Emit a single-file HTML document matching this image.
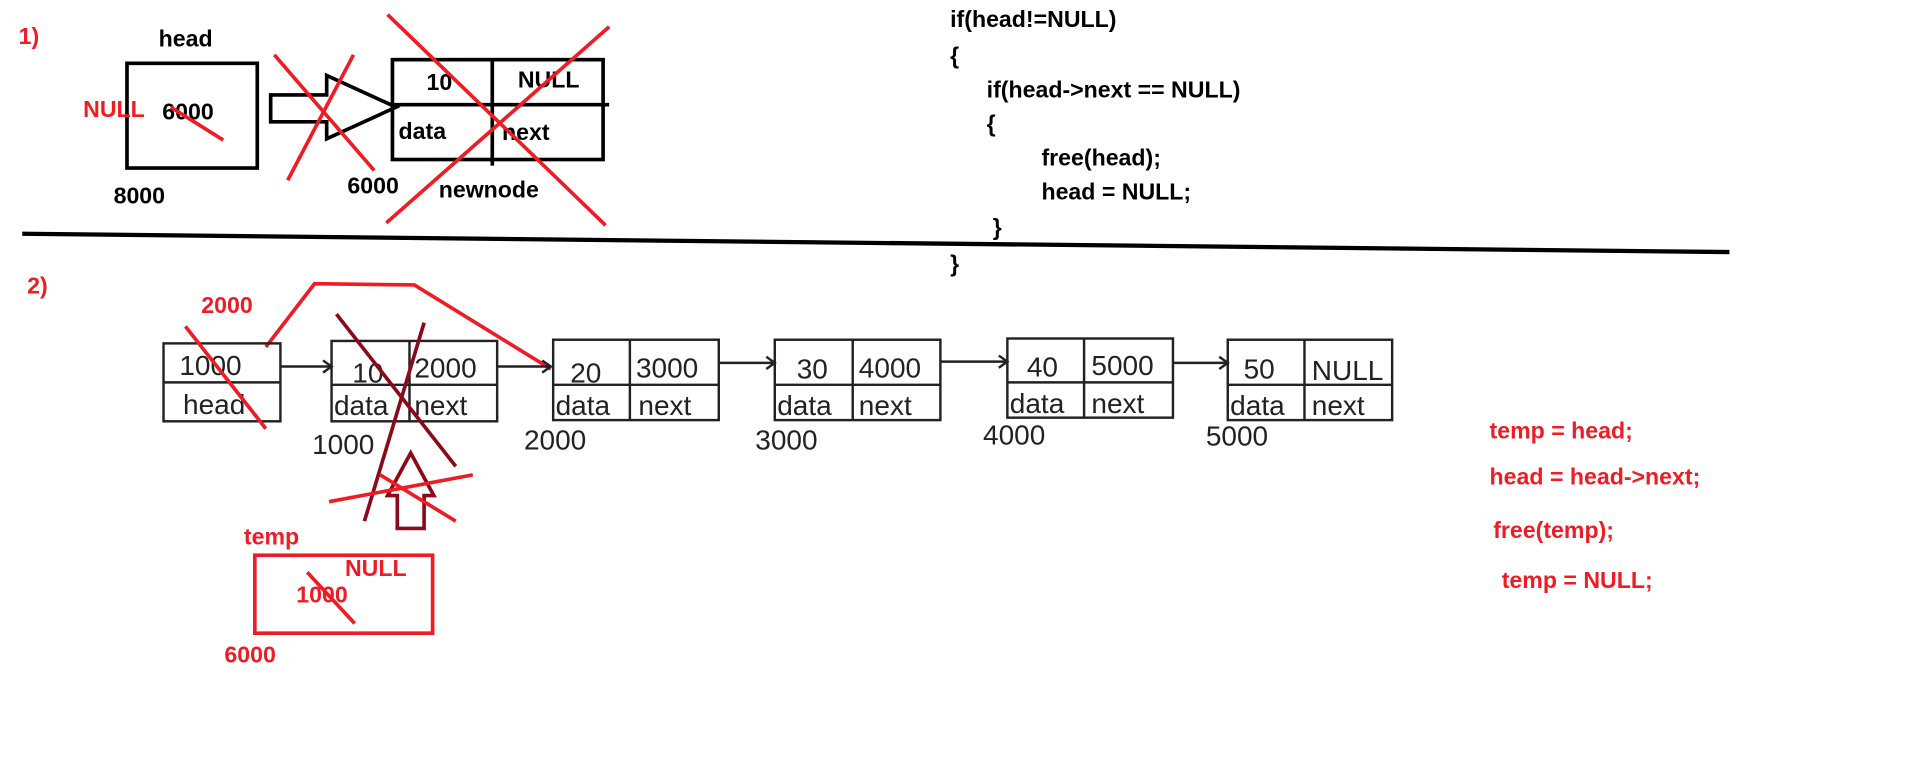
<!DOCTYPE html>
<html><head><meta charset="utf-8"><style>
html,body{margin:0;padding:0;background:#fff;width:1910px;height:772px;overflow:hidden}
svg{display:block}
.b{font-family:"Liberation Sans Narrow","Liberation Sans",sans-serif;font-weight:bold;font-size:19px;fill:#000}
.r{fill:#ee1c24}
.n{font-family:"Liberation Sans Narrow","Liberation Sans",sans-serif;font-size:23px;fill:#222}
</style></head><body>
<svg width="1910" height="772" viewBox="0 0 1568 634">
<g>
<text class="b r" x="15" y="36">1)</text>
<text class="b" x="130" y="38">head</text>
<rect x="104" y="52" width="107" height="86" fill="none" stroke="#000" stroke-width="3"/>
<text class="b r" x="68" y="96">NULL</text>
<text class="b" x="133" y="98">6000</text>
<line x1="140" y1="88" x2="183" y2="115" stroke="#ee1c24" stroke-width="3"/>
<text class="b" x="93" y="167">8000</text>
<polygon points="222,78 268,78 268,62 325,88 268,114 268,100 222,100" fill="none" stroke="#000" stroke-width="3"/>
<line x1="225" y1="45" x2="307" y2="140" stroke="#ee1c24" stroke-width="3"/>
<line x1="290" y1="45" x2="236" y2="148" stroke="#ee1c24" stroke-width="3"/>
<rect x="322" y="49" width="173" height="82" fill="none" stroke="#000" stroke-width="3"/>
<line x1="322" y1="86" x2="500" y2="86" stroke="#000" stroke-width="3"/>
<line x1="404" y1="49" x2="404" y2="136" stroke="#000" stroke-width="3"/>
<text class="b" x="350" y="74">10</text>
<text class="b" x="425" y="72">NULL</text>
<text class="b" x="327" y="114">data</text>
<text class="b" x="412" y="115">next</text>
<text class="b" x="285" y="159">6000</text>
<text class="b" x="360" y="162">newnode</text>
<line x1="318" y1="12" x2="497" y2="185" stroke="#ee1c24" stroke-width="3"/>
<line x1="500" y1="22" x2="317" y2="183" stroke="#ee1c24" stroke-width="3"/>
</g>
<line x1="18" y1="192" x2="1420" y2="207" stroke="#000" stroke-width="3.5"/>
<g class="b">
<text class="b" x="780" y="22">if(head!=NULL)</text>
<text class="b" x="780" y="52">{</text>
<text class="b" x="810" y="80">if(head-&gt;next == NULL)</text>
<text class="b" x="810" y="108">{</text>
<text class="b" x="855" y="136">free(head);</text>
<text class="b" x="855" y="164">head = NULL;</text>
<text class="b" x="815" y="193">}</text>
<text class="b" x="780" y="223">}</text>
</g>
<g>
<text class="b r" x="22" y="241">2)</text>
<text class="b r" x="165" y="257">2000</text>
<polyline points="218,285 258,233 340,234 452,303" fill="none" stroke="#ee1c24" stroke-width="3"/>
<g fill="none" stroke="#222" stroke-width="2">
<rect x="134" y="282" width="96" height="64"/><line x1="134" y1="314" x2="230" y2="314"/>
<rect x="272" y="280" width="136" height="66"/><line x1="272" y1="316" x2="408" y2="316"/><line x1="336" y1="280" x2="336" y2="346"/>
<rect x="454" y="279" width="136" height="66"/><line x1="454" y1="316" x2="590" y2="316"/><line x1="517" y1="279" x2="517" y2="345"/>
<rect x="636" y="279" width="136" height="66"/><line x1="636" y1="316" x2="772" y2="316"/><line x1="700" y1="279" x2="700" y2="345"/>
<rect x="827" y="278" width="136" height="65"/><line x1="827" y1="314" x2="963" y2="314"/><line x1="890" y1="278" x2="890" y2="343"/>
<rect x="1008" y="279" width="135" height="66"/><line x1="1008" y1="316" x2="1143" y2="316"/><line x1="1071" y1="279" x2="1071" y2="345"/>
<path d="M230 301H272M265 296L272 301L265 306"/>
<path d="M408 301H452M445 296L452 301L445 306"/>
<path d="M590 298H636M629 293L636 298L629 303"/>
<path d="M772 297H827M820 292L827 297L820 302"/>
<path d="M963 298H1008M1001 293L1008 298L1001 303"/>
</g>
<text class="n" x="147" y="308">1000</text><text class="n" x="150" y="340">head</text>
<text class="n" x="289" y="314">10</text><text class="n" x="340" y="310">2000</text><text class="n" x="274" y="341">data</text><text class="n" x="340" y="341">next</text>
<text class="n" x="468" y="314">20</text><text class="n" x="522" y="310">3000</text><text class="n" x="456" y="341">data</text><text class="n" x="524" y="341">next</text>
<text class="n" x="654" y="311">30</text><text class="n" x="705" y="310">4000</text><text class="n" x="638" y="341">data</text><text class="n" x="705" y="341">next</text>
<text class="n" x="843" y="309">40</text><text class="n" x="896" y="308">5000</text><text class="n" x="829" y="339">data</text><text class="n" x="896" y="339">next</text>
<text class="n" x="1021" y="311">50</text><text class="n" x="1077" y="312">NULL</text><text class="n" x="1010" y="341">data</text><text class="n" x="1077" y="341">next</text>
<text class="n" x="256" y="373">1000</text>
<text class="n" x="430" y="369">2000</text>
<text class="n" x="620" y="369">3000</text>
<text class="n" x="807" y="365">4000</text>
<text class="n" x="990" y="366">5000</text>
<line x1="152" y1="268" x2="218" y2="352" stroke="#ee1c24" stroke-width="3"/>
<line x1="276" y1="258" x2="374" y2="383" stroke="#8b0a1a" stroke-width="3"/>
<line x1="348" y1="265" x2="299" y2="428" stroke="#8b0a1a" stroke-width="3"/>
<polygon points="326,434 348,434 348,407 356,407 337,372 318,407 326,407" fill="none" stroke="#8b0a1a" stroke-width="3"/>
<line x1="270" y1="412" x2="388" y2="390" stroke="#ee1c24" stroke-width="3"/>
<line x1="312" y1="390" x2="374" y2="428" stroke="#ee1c24" stroke-width="3"/>
<text class="b r" x="200" y="447">temp</text>
<rect x="209" y="456" width="146" height="64" fill="none" stroke="#ee1c24" stroke-width="3"/>
<text class="b r" x="283" y="473">NULL</text>
<text class="b r" x="243" y="495">1000</text>
<line x1="252" y1="470" x2="291" y2="512" stroke="#ee1c24" stroke-width="3"/>
<text class="b r" x="184" y="544">6000</text>
</g>
<g>
<text class="b r" x="1223" y="360">temp = head;</text>
<text class="b r" x="1223" y="398">head = head-&gt;next;</text>
<text class="b r" x="1226" y="442">free(temp);</text>
<text class="b r" x="1233" y="483">temp = NULL;</text>
</g>
</svg>
</body></html>
